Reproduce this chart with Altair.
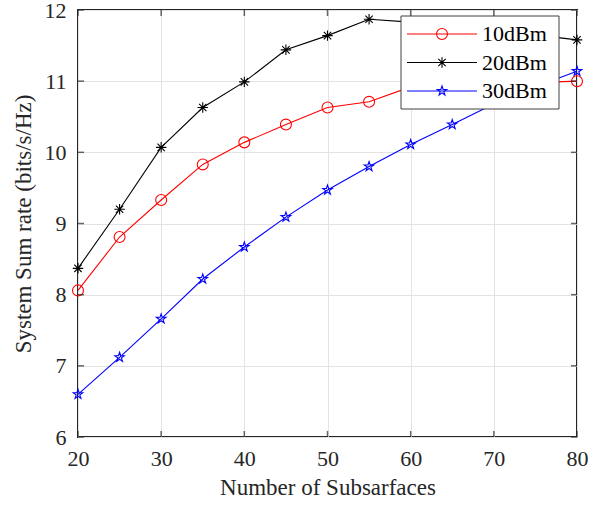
import altair as alt
import pandas as pd

# ---- data ----
x_vals = [20, 25, 30, 35, 40, 45, 50, 55, 60, 65, 70, 75, 80]
s10 = [8.06, 8.81, 9.33, 9.83, 10.14, 10.39, 10.63, 10.71, 10.92, 10.95, 10.97, 10.98, 11.00]
s20 = [8.37, 9.20, 10.07, 10.63, 10.99, 11.44, 11.64, 11.87, 11.83, 11.78, 11.72, 11.65, 11.58]
s30 = [6.60, 7.12, 7.66, 8.22, 8.67, 9.09, 9.47, 9.80, 10.11, 10.39, 10.68, 10.92, 11.14]
series_names = ["10dBm", "20dBm", "30dBm"]
x_ticks = [20, 30, 40, 50, 60, 70, 80]
y_ticks = [6, 7, 8, 9, 10, 11, 12]

rows = []
for name, vals in zip(series_names, [s10, s20, s30]):
    for xv, yv in zip(x_vals, vals):
        rows.append({"x": xv, "y": yv, "series": name})
df = pd.DataFrame(rows)

W, H = 499, 427
FONT = "Liberation Serif"
TXT = "#262626"
FS = 22

STAR = ("M0,-1L0.225,-0.309L0.951,-0.309L0.363,0.118L0.588,0.809L0,0.382"
        "L-0.588,0.809L-0.363,0.118L-0.951,-0.309L-0.225,-0.309Z")
AST = "M-1,0L1,0M0,-1L0,1M-0.7,-0.7L0.7,0.7M-0.7,0.7L0.7,-0.7"

color_scale = alt.Scale(domain=series_names, range=["#ff0000", "#000000", "#0000ff"])
shape_scale = alt.Scale(domain=series_names, range=["circle", AST, STAR])
size_scale = alt.Scale(domain=series_names, range=[120, 100, 130])

xs = alt.Scale(domain=[20, 80], nice=False, zero=False)
ys = alt.Scale(domain=[6, 12], nice=False, zero=False)

base = alt.Chart(df)
lines = base.mark_line(strokeWidth=1.1).encode(
    x=alt.X("x:Q", scale=xs, title="Number of Subsarfaces",
            axis=alt.Axis(values=x_ticks, format="d", grid=True, ticks=False, domain=False,
                          labelFlush=False, labelPadding=11, titlePadding=7, titleFontSize=23)),
    y=alt.Y("y:Q", scale=ys, title="System Sum rate (bits/s/Hz)",
            axis=alt.Axis(values=y_ticks, format="d", grid=True, ticks=False, domain=False,
                          labelFlush=False, labelPadding=12, titlePadding=9, titleFontSize=23)),
    color=alt.Color("series:N", scale=color_scale, legend=None),
    detail="series:N",
)
points = base.mark_point(filled=False, strokeWidth=1.1, opacity=1).encode(
    x=alt.X("x:Q", scale=xs),
    y=alt.Y("y:Q", scale=ys),
    color=alt.Color("series:N", scale=color_scale, legend=None),
    shape=alt.Shape("series:N", scale=shape_scale, legend=None),
    size=alt.Size("series:N", scale=size_scale, legend=None),
)

xt = pd.DataFrame({"t": x_ticks})
yt = pd.DataFrame({"t": y_ticks})
tick_bot = alt.Chart(xt).mark_tick(orient="vertical", color=TXT, thickness=1.5, size=6).encode(
    x=alt.X("t:Q", scale=xs), y=alt.value(H - 3))
tick_top = alt.Chart(xt).mark_tick(orient="vertical", color=TXT, thickness=1.5, size=6).encode(
    x=alt.X("t:Q", scale=xs), y=alt.value(3))
tick_left = alt.Chart(yt).mark_tick(orient="horizontal", color=TXT, thickness=1.5, size=6).encode(
    y=alt.Y("t:Q", scale=ys), x=alt.value(3))
tick_right = alt.Chart(yt).mark_tick(orient="horizontal", color=TXT, thickness=1.5, size=6).encode(
    y=alt.Y("t:Q", scale=ys), x=alt.value(W - 3))

main = alt.layer(lines, points, tick_bot, tick_top, tick_left, tick_right)

# ---- legend ----
leg_df = pd.DataFrame({"series": series_names})
leg_y = alt.Y("series:O", scale=alt.Scale(type="point", domain=series_names, range=[24, 81], padding=0), axis=None)
leg_box = alt.Chart(pd.DataFrame({"a": [0]})).mark_rect(
    fill="white", stroke="#404040", strokeWidth=1).encode(
    x=alt.value(323), x2=alt.value(481), y=alt.value(6), y2=alt.value(99))
leg_line = alt.Chart(leg_df).mark_rule(strokeWidth=1.1).encode(
    x=alt.value(329), x2=alt.value(399), y=leg_y,
    color=alt.Color("series:N", scale=color_scale, legend=None))
leg_pt = alt.Chart(leg_df).mark_point(filled=False, strokeWidth=1.1, opacity=1).encode(
    x=alt.value(364), y=leg_y,
    color=alt.Color("series:N", scale=color_scale, legend=None),
    shape=alt.Shape("series:N", scale=shape_scale, legend=None),
    size=alt.Size("series:N", scale=size_scale, legend=None))
leg_txt = alt.Chart(leg_df).mark_text(align="left", baseline="middle", font=FONT,
                                      fontSize=FS, color="#000000").encode(
    x=alt.value(404), y=leg_y, text="series:N")
legend = alt.layer(leg_box, leg_line, leg_pt, leg_txt)

chart = alt.layer(main, legend).resolve_scale(y="independent").properties(
    width=W, height=H,
    background="white",
    autosize=alt.AutoSizeParams(type="none"),
    padding={"left": 78, "top": 10, "right": 20, "bottom": 69},
).configure_view(stroke=TXT, strokeWidth=2).configure_axis(
    labelFont=FONT, titleFont=FONT, labelFontSize=FS, titleFontSize=FS,
    labelColor=TXT, titleColor=TXT, titleFontWeight="normal",
    gridColor="#e3e3e3", gridWidth=1,
)

chart.save("out.html", embed_options={"renderer": "svg", "actions": False})
